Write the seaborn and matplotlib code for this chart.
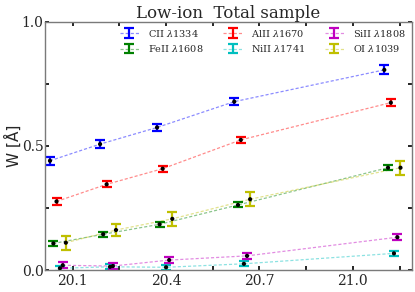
import matplotlib
matplotlib.use("Agg")
import matplotlib.pyplot as plt
import seaborn as sns
import numpy as np
import pandas as pd
from matplotlib.ticker import MultipleLocator

# ---- data ----
ions = ["CII", "FeII", "AlII", "NiII", "SiII", "OI"]
labels = [r"CII $\lambda$1334", r"FeII $\lambda$1608", r"AlII $\lambda$1670",
          r"NiII $\lambda$1741", r"SiII $\lambda$1808", r"OI $\lambda$1039"]
colors = ["#0000ff", "#008000", "#ff0000", "#00bfbf", "#bf00bf", "#bfbf00"]

x_CII = [20.027, 20.188, 20.371, 20.619, 21.101]
x_FeII = [20.038, 20.198, 20.379, 20.631, 21.113]
x_AlII = [20.048, 20.209, 20.389, 20.640, 21.122]
x_NiII = [20.059, 20.220, 20.400, 20.650, 21.132]
x_SiII = [20.068, 20.229, 20.410, 20.660, 21.143]
x_OI = [20.078, 20.239, 20.420, 20.670, 21.153]

w_CII = [0.440, 0.507, 0.574, 0.678, 0.806]
w_FeII = [0.107, 0.144, 0.184, 0.262, 0.412]
w_AlII = [0.276, 0.345, 0.408, 0.524, 0.674]
w_NiII = [0.007, 0.013, 0.011, 0.025, 0.067]
w_SiII = [0.019, 0.016, 0.040, 0.057, 0.132]
w_OI = [0.110, 0.161, 0.206, 0.285, 0.412]

e_CII = [0.016, 0.016, 0.015, 0.015, 0.018]
e_FeII = [0.010, 0.010, 0.010, 0.010, 0.011]
e_AlII = [0.013, 0.012, 0.012, 0.013, 0.013]
e_NiII = [0.010, 0.010, 0.010, 0.010, 0.010]
e_SiII = [0.012, 0.012, 0.012, 0.012, 0.012]
e_OI = [0.028, 0.025, 0.027, 0.028, 0.028]

xs = [x_CII, x_FeII, x_AlII, x_NiII, x_SiII, x_OI]
ws = [w_CII, w_FeII, w_AlII, w_NiII, w_SiII, w_OI]
es = [e_CII, e_FeII, e_AlII, e_NiII, e_SiII, e_OI]

df = pd.DataFrame({
    "x": np.concatenate(xs),
    "W": np.concatenate(ws),
    "err": np.concatenate(es),
    "ion": np.repeat(ions, [len(v) for v in xs]),
})

sns.set_style("ticks")
plt.rcParams["font.family"] = ["DejaVu Serif"]
plt.rcParams["mathtext.fontset"] = "dejavuserif"

fig = plt.figure(figsize=(4.15, 2.92), dpi=100)
ax = fig.add_axes([0.1084, 0.0753, 0.992 - 0.1084, 0.9257 - 0.0753])

for ion, lab, col in zip(ions, labels, colors):
    d = df[df["ion"] == ion]
    ax.errorbar(d["x"], d["W"], yerr=d["err"], fmt="none", color=col,
                elinewidth=1.6, capsize=3.5, capthick=1.6, zorder=2)
    ax.plot(d["x"], d["W"], ls=(0, (2.5, 1.6)), lw=0.9, color=col,
            alpha=0.45, zorder=1)

# legend handles
handles = []
for ion, lab, col in zip(ions, labels, colors):
    h = ax.errorbar([np.nan], [np.nan], yerr=[0.01], fmt="--", color=col,
                    lw=0.9, elinewidth=1.6, capsize=3.5, capthick=1.6)
    h.lines[0].set_alpha(0.45)
    h.lines[0].set_dashes((2.5, 1.6))
    handles.append(h)

sns.scatterplot(data=df, x="x", y="W", color="black", s=9, marker="o",
                edgecolor="none", ax=ax, zorder=3, legend=False)

ax.set_xlim(20.011, 21.189)
ax.set_ylim(0.0, 1.0)
ax.xaxis.set_major_locator(MultipleLocator(0.3))
ax.xaxis.set_minor_locator(MultipleLocator(0.15))
ax.yaxis.set_major_locator(MultipleLocator(0.5))
ax.yaxis.set_minor_locator(MultipleLocator(0.25))
ax.xaxis.set_major_formatter(matplotlib.ticker.FormatStrFormatter("%.1f"))
ax.yaxis.set_major_formatter(matplotlib.ticker.FormatStrFormatter("%.1f"))
ax.tick_params(which="both", direction="in", top=True, right=True,
               length=3, width=1.2, color="black", labelsize=10)
ax.tick_params(axis="y", pad=1)
ax.tick_params(axis="x", pad=3)
for s in ax.spines.values():
    s.set_color("#7a7a7a")
    s.set_linewidth(1.0)

ax.set_xlabel("")
ax.set_ylabel(u"W [\u00c5]", family="DejaVu Sans", fontsize=11, labelpad=0)
ax.set_title("Low-ion  Total sample", fontsize=12, pad=3)

leg = ax.legend(handles, labels, loc="upper right", ncol=3, frameon=False,
                fontsize=7, handlelength=2.0, columnspacing=2.0,
                handletextpad=0.9, labelspacing=0.45, borderaxespad=0.2)

fig.savefig("out.png", dpi=100)
